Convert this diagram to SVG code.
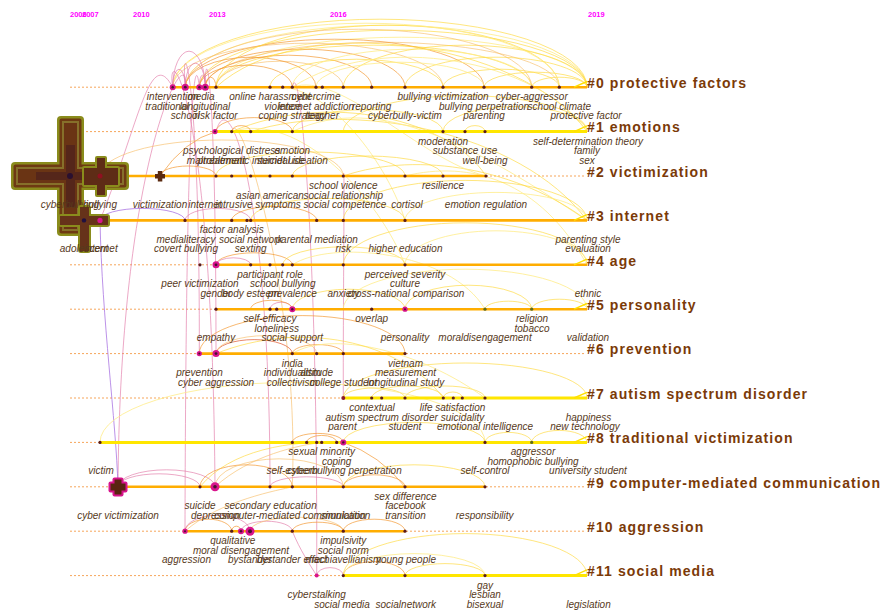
<svg xmlns="http://www.w3.org/2000/svg" width="893" height="611" viewBox="0 0 893 611">
<style>
.bg{fill:#ffffff}
.yr{font-family:"Liberation Sans",Arial,sans-serif;font-size:7.5px;font-weight:bold;fill:#ff00ff}
.kw{font-family:"Liberation Sans",Arial,sans-serif;font-size:10px;font-style:italic;fill:#573a1c;text-anchor:middle}
.cl{font-family:"Liberation Sans",Arial,sans-serif;font-size:14px;font-weight:bold;fill:#7b3a08;letter-spacing:1.1px}
.dl{stroke:#f6a55a;stroke-width:1;stroke-dasharray:2 2;fill:none}
.so{stroke:#ffad00;stroke-width:2.6;fill:none}
.sy{stroke:#ffe600;stroke-width:3;fill:none}
.wg{stroke:#ffe000;stroke-width:1.4;fill:none}
.d{fill:#5a1c1c}
.dg{fill:#5e6a1c}
.m{fill:#d8148c}
.mc{fill:#4a1030}
#connectors path{fill:none;stroke-width:1}
.ap{stroke:#e27aa8;stroke-opacity:.65}
.av{stroke:#a56ee0;stroke-opacity:.75}
.ao{stroke:#f39a35;stroke-opacity:.7}
.ar{stroke:#e0603a;stroke-opacity:.75}
.al{stroke:#f7bf6a;stroke-opacity:.65}
.ay{stroke:#ffd83a;stroke-opacity:.65}
.aq{stroke:#ffec8a;stroke-opacity:.8}
</style>
<rect class="bg" x="0" y="0" width="893" height="611"/>
<g id="years">
<text class="yr" x="70" y="17">2006</text>
<text class="yr" x="82" y="17">2007</text>
<text class="yr" x="133" y="17">2010</text>
<text class="yr" x="209" y="17">2013</text>
<text class="yr" x="330" y="17">2016</text>
<text class="yr" x="588" y="17">2019</text>
</g>
<g id="timelines-dotted">
<line class="dl" x1="70" y1="87.2" x2="586" y2="87.2"/>
<line class="dl" x1="70" y1="131.6" x2="586" y2="131.6"/>
<line class="dl" x1="70" y1="176" x2="586" y2="176"/>
<line class="dl" x1="70" y1="220.4" x2="586" y2="220.4"/>
<line class="dl" x1="70" y1="264.8" x2="586" y2="264.8"/>
<line class="dl" x1="70" y1="309.2" x2="586" y2="309.2"/>
<line class="dl" x1="70" y1="353.6" x2="586" y2="353.6"/>
<line class="dl" x1="70" y1="398" x2="586" y2="398"/>
<line class="dl" x1="70" y1="442.4" x2="586" y2="442.4"/>
<line class="dl" x1="70" y1="486.8" x2="586" y2="486.8"/>
<line class="dl" x1="70" y1="531.2" x2="586" y2="531.2"/>
<line class="dl" x1="70" y1="575.6" x2="586" y2="575.6"/>
</g>
<g id="connectors">
<path class="ay" d="M172.7 87.2 A207.15 68 0 0 1 587 87.2"/>
<path class="aq" d="M185.3 87.2 A200.85 62 0 0 1 587 87.2"/>
<path class="ay" d="M199.3 87.2 A193.85 57 0 0 1 587 87.2"/>
<path class="aq" d="M216 87.2 A185.5 50 0 0 1 587 87.2"/>
<path class="al" d="M205.3 87.2 A177 45 0 0 1 559.3 87.2"/>
<path class="ay" d="M216 87.2 A157.85 42 0 0 1 531.7 87.2"/>
<path class="ao" d="M185.3 87.2 A149.35 48 0 0 1 484 87.2"/>
<path class="al" d="M172.7 87.2 A135.15 44 0 0 1 443 87.2"/>
<path class="ao" d="M199.3 87.2 A102.85 38 0 0 1 405 87.2"/>
<path class="ao" d="M205.3 87.2 A83.2 32 0 0 1 371.7 87.2"/>
<path class="al" d="M216 87.2 A63.65 26 0 0 1 343.3 87.2"/>
<path class="ao" d="M185.3 87.2 A65.35 30 0 0 1 316 87.2"/>
<path class="ao" d="M199.3 87.2 A46.5 22 0 0 1 292.3 87.2"/>
<path class="ay" d="M270 87.2 A86.5 28 0 0 1 443 87.2"/>
<path class="aq" d="M292.3 87.2 A119.7 38 0 0 1 531.7 87.2"/>
<path class="ay" d="M343.3 87.2 A121.85 42 0 0 1 587 87.2"/>
<path class="ay" d="M405 87.2 A91 30 0 0 1 587 87.2"/>
<path class="ay" d="M443 87.2 A58.15 18 0 0 1 559.3 87.2"/>
<path class="aq" d="M316 87.2 A84 25 0 0 1 484 87.2"/>
<path class="ay" d="M484 87.2 A51.5 15 0 0 1 587 87.2"/>
<path class="ay" d="M531.7 87.2 A27.65 10 0 0 1 587 87.2"/>
<path class="ay" d="M216 87.2 A171.65 62 0 0 1 559.3 87.2"/>
<path class="al" d="M185.3 87.2 A173.2 58 0 0 1 531.7 87.2"/>
<path class="aq" d="M172.7 87.2 A193.3 64 0 0 1 559.3 87.2"/>
<path class="ap" d="M172.7 87.2 A6.3 18 0 0 1 185.3 87.2"/>
<path class="ap" d="M185.3 87.2 A10 24 0 0 1 205.3 87.2"/>
<path class="ap" d="M172.7 87.2 A16.3 36 0 0 1 205.3 87.2"/>
<path class="ap" d="M199.3 87.2 A3 12 0 0 1 205.3 87.2"/>
<path class="ao" d="M205.3 87.2 A5.35 10 0 0 1 216 87.2"/>
<path class="ay" d="M216 87.2 C300 10 520 40 587 131.6"/>
<path class="aq" d="M292.3 87.2 C380 30 540 60 587 131.6"/>
<path class="ay" d="M250.7 131.6 C350 100 520 130 587 220.4"/>
<path class="ay" d="M231.7 131.6 C330 90 450 120 486 176"/>
<path class="aq" d="M292.3 131.6 C380 90 480 150 587 220.4"/>
<path class="ay" d="M343.3 176 C420 150 520 170 587 220.4"/>
<path class="aq" d="M405 176 C470 160 540 180 587 264.8"/>
<path class="aq" d="M231.7 131.6 C300 110 380 200 405 264.8"/>
<path class="aq" d="M292.3 87.2 C340 70 420 160 486 176"/>
<path class="aq" d="M270 87.2 C330 80 390 170 405 220.4"/>
<path class="ap" d="M185.3 87.2 C180 30 200 60 199.3 353.6"/>
<path class="ap" d="M205.3 87.2 C205 40 216 70 216 353.6"/>
<path class="ap" d="M172.7 87.2 C165 40 212 80 215 486.8"/>
<path class="ap" d="M185.3 87.2 C190 35 120 150 118 486.8"/>
<path class="ap" d="M199.3 87.2 C195 45 186 100 185 531.2"/>
<path class="ap" d="M172.7 87.2 C150 45 140 120 100 220.4"/>
<path class="av" d="M100 220.4 C102 320 116 420 118 486.8"/>
<path class="ap" d="M216 131.6 C230 80 270 200 270 486.8"/>
<path class="ap" d="M292.3 87.2 C300 50 318 250 316.7 575.6"/>
<path class="ap" d="M343.3 176 C345 150 343 300 343.3 398"/>
<path class="al" d="M231.7 131.6 C240 100 300 300 292.3 486.8"/>
<path class="ao" d="M216 131.6 A38.15 14 0 0 1 292.3 131.6"/>
<path class="ao" d="M231.7 131.6 A9.5 6 0 0 1 250.7 131.6"/>
<path class="ay" d="M292.3 131.6 A75.35 22 0 0 1 443 131.6"/>
<path class="ay" d="M443 131.6 A72 25 0 0 1 587 131.6"/>
<path class="ay" d="M465 131.6 A10 6 0 0 1 485 131.6"/>
<path class="ay" d="M343.3 131.6 A121.85 36 0 0 1 587 131.6"/>
<path class="ao" d="M160 176 Q185 140 216 131.6"/>
<path class="al" d="M100 176 A121.65 36 0 0 1 343.3 176"/>
<path class="ay" d="M216 176 A94.5 24 0 0 1 405 176"/>
<path class="ay" d="M292.3 176 A75.35 20 0 0 1 443 176"/>
<path class="ao" d="M160 176 A28 10 0 0 1 216 176"/>
<path class="av" d="M100 220.4 A42.5 12 0 0 1 185 220.4"/>
<path class="ap" d="M185 220.4 A32.85 12 0 0 1 250.7 220.4"/>
<path class="ao" d="M231.7 220.4 A42.5 14 0 0 1 316.7 220.4"/>
<path class="ay" d="M250.7 220.4 A77.15 22 0 0 1 405 220.4"/>
<path class="ay" d="M343.3 220.4 A121.85 40 0 0 1 587 220.4"/>
<path class="aq" d="M405 220.4 A91 28 0 0 1 587 220.4"/>
<path class="ao" d="M216 264.8 A38.15 12 0 0 1 292.3 264.8"/>
<path class="ap" d="M216 264.8 A17.35 7 0 0 1 250.7 264.8"/>
<path class="ay" d="M282.7 264.8 A61.15 18 0 0 1 405 264.8"/>
<path class="ay" d="M343.3 264.8 A121.85 42 0 0 1 587 264.8"/>
<path class="aq" d="M405 264.8 A91 34 0 0 1 587 264.8"/>
<path class="aq" d="M292.3 264.8 C330 240 450 250 485 309.2"/>
<path class="ap" d="M270 309.2 A11.15 7 0 0 1 292.3 309.2"/>
<path class="ao" d="M250.7 309.2 A20.8 9 0 0 1 292.3 309.2"/>
<path class="ay" d="M292.3 309.2 A56.35 20 0 0 1 405 309.2"/>
<path class="ay" d="M405 309.2 A63.35 24 0 0 1 531.7 309.2"/>
<path class="ay" d="M485 309.2 A23.35 8 0 0 1 531.7 309.2"/>
<path class="ay" d="M531.7 309.2 A27.65 10 0 0 1 587 309.2"/>
<path class="aq" d="M343.3 309.2 A121.85 40 0 0 1 587 309.2"/>
<path class="ar" d="M216 353.6 A38.15 14 0 0 1 292.3 353.6"/>
<path class="ao" d="M199.3 353.6 A102.85 38 0 0 1 405 353.6"/>
<path class="ao" d="M292.3 353.6 A25.5 9 0 0 1 343.3 353.6"/>
<path class="al" d="M216 353.6 A50.35 18 0 0 1 316.7 353.6"/>
<path class="ay" d="M343.3 398 A121.85 35 0 0 1 587 398"/>
<path class="ay" d="M371.7 398 A35.8 12 0 0 1 443.3 398"/>
<path class="ay" d="M405 398 A40 12 0 0 1 485 398"/>
<path class="ay" d="M443.3 398 A9.5 6 0 0 1 462.3 398"/>
<path class="ay" d="M343.3 398 A30.85 10 0 0 1 405 398"/>
<path class="aq" d="M292.3 353.6 C330 330 420 350 485 398"/>
<path class="ay" d="M216 353.6 C300 320 400 340 443.3 398"/>
<path class="aq" d="M100 442.4 A192.5 60 0 0 1 485 442.4"/>
<path class="ao" d="M292.3 442.4 A25.5 9 0 0 1 343.3 442.4"/>
<path class="ao" d="M306.7 442.4 A15 7 0 0 1 336.7 442.4"/>
<path class="ay" d="M485 442.4 A23.35 10 0 0 1 531.7 442.4"/>
<path class="ay" d="M531.7 442.4 A27.65 12 0 0 1 587 442.4"/>
<path class="ay" d="M343.3 442.4 A70.85 20 0 0 1 485 442.4"/>
<path class="ao" d="M343.3 442.4 Q380 455 405 486.8"/>
<path class="ap" d="M118 486.8 A48.5 17 0 0 1 215 486.8"/>
<path class="ap" d="M118 486.8 A41 13 0 0 1 200 486.8"/>
<path class="ay" d="M200 486.8 C230 450 290 440 343.3 442.4"/>
<path class="al" d="M215 486.8 C250 455 300 445 321.7 442.4"/>
<path class="ao" d="M200 486.8 A46.15 22 0 0 1 292.3 486.8"/>
<path class="al" d="M215 486.8 A64.15 28 0 0 1 343.3 486.8"/>
<path class="ap" d="M270 486.8 A36.65 10 0 0 1 343.3 486.8"/>
<path class="ao" d="M343.3 486.8 A30.85 12 0 0 1 405 486.8"/>
<path class="ay" d="M343.3 486.8 A70.85 22 0 0 1 485 486.8"/>
<path class="ao" d="M185 531.2 A23.35 12 0 0 1 231.7 531.2"/>
<path class="ap" d="M185 531.2 A32.5 16 0 0 1 250 531.2"/>
<path class="ao" d="M231.7 531.2 A4.65 5 0 0 1 241 531.2"/>
<path class="ap" d="M241 531.2 A25.65 10 0 0 1 292.3 531.2"/>
<path class="al" d="M250 531.2 A46.65 14 0 0 1 343.3 531.2"/>
<path class="ao" d="M292.3 531.2 A25.5 9 0 0 1 343.3 531.2"/>
<path class="ao" d="M343.3 531.2 A30.85 12 0 0 1 405 531.2"/>
<path class="al" d="M185 531.2 C220 500 280 490 292.3 486.8"/>
<path class="ap" d="M316.7 575.6 A13.3 8 0 0 1 343.3 575.6"/>
<path class="ao" d="M343.3 575.6 A30.85 14 0 0 1 405 575.6"/>
<path class="ay" d="M343.3 575.6 A121.85 42 0 0 1 587 575.6"/>
<path class="ay" d="M405 575.6 A40 12 0 0 1 485 575.6"/>
<path class="aq" d="M343.3 575.6 A70.85 22 0 0 1 485 575.6"/>
<path class="ap" d="M292.3 531.2 C300 550 310 565 316.7 575.6"/>
</g>
<g id="timelines-solid">
<line class="so" x1="172.7" y1="87.2" x2="587" y2="87.2"/>
<line class="sy" x1="215" y1="131.6" x2="587" y2="131.6"/>
<line class="so" x1="70" y1="176" x2="486" y2="176"/>
<line class="so" x1="70" y1="220.4" x2="587" y2="220.4"/>
<line class="so" x1="216" y1="264.8" x2="587" y2="264.8"/>
<line class="so" x1="216" y1="309.2" x2="587" y2="309.2"/>
<line class="so" x1="199.3" y1="353.6" x2="405" y2="353.6"/>
<line class="sy" x1="343.3" y1="398" x2="587" y2="398"/>
<line class="sy" x1="100" y1="442.4" x2="587" y2="442.4"/>
<line class="so" x1="118" y1="486.8" x2="485" y2="486.8"/>
<line class="so" x1="185" y1="531.2" x2="405" y2="531.2"/>
<line class="sy" x1="343.3" y1="575.6" x2="587" y2="575.6"/>
<path class="wg" d="M574 87.2 L587 81.5 M574 131.6 L587 125.9 M574 220.4 L587 214.7 M574 264.8 L587 259.1 M574 309.2 L587 303.5 M574 398 L587 392.3 M574 442.4 L587 436.7 M574 575.6 L587 569.9"/>
</g>
<g id="clusters">
<g id="cluster0"><text class="cl" x="587" y="88">#0 protective factors</text></g>
<g id="cluster1"><text class="cl" x="587" y="132.4">#1 emotions</text></g>
<g id="cluster2"><text class="cl" x="587" y="176.8">#2 victimization</text></g>
<g id="cluster3"><text class="cl" x="587" y="221.2">#3 internet</text></g>
<g id="cluster4"><text class="cl" x="587" y="265.6">#4 age</text></g>
<g id="cluster5"><text class="cl" x="587" y="310">#5 personality</text></g>
<g id="cluster6"><text class="cl" x="587" y="354.4">#6 prevention</text></g>
<g id="cluster7"><text class="cl" x="587" y="398.8">#7 autism spectrum disorder</text></g>
<g id="cluster8"><text class="cl" x="587" y="443.2">#8 traditional victimization</text></g>
<g id="cluster9"><text class="cl" x="587" y="487.6">#9 computer-mediated communication</text></g>
<g id="cluster10"><text class="cl" x="587" y="532">#10 aggression</text></g>
<g id="cluster11"><text class="cl" x="587" y="576.4">#11 social media</text></g>
</g>
<g id="nodes">
<!-- big crosses -->
<g id="n2-cyberbullying">
<rect x="57" y="116" width="27" height="120" rx="4" fill="#8a8c1c"/>
<rect x="11" y="162" width="118" height="28" rx="4" fill="#8a8c1c"/>
<rect x="59.5" y="118.5" width="22" height="115" rx="2" fill="#6e3a12"/>
<rect x="13.5" y="164.5" width="113" height="23" rx="2" fill="#6e3a12"/>
<rect x="62" y="121" width="17" height="110" fill="#86702a"/>
<rect x="16" y="167" width="108" height="18" fill="#86702a"/>
<rect x="64" y="123" width="13" height="106" fill="#6a3414"/>
<rect x="18" y="169" width="104" height="14" fill="#6a3414"/>
<rect x="66" y="145" width="9" height="62" fill="#55261a"/>
<rect x="36" y="172" width="68" height="8" fill="#55261a"/>
<circle cx="70" cy="176" r="3" fill="#2a1030"/>
<text class="kw" x="70" y="208">cyberbullying</text>
</g>
<g id="n3-adolescent">
<rect x="78" y="205" width="13" height="48" rx="3" fill="#8a8c1c"/>
<rect x="58" y="214" width="52" height="13" rx="3" fill="#8a8c1c"/>
<rect x="80" y="207" width="9" height="44" fill="#66321a"/>
<rect x="60" y="216" width="48" height="9" fill="#66321a"/>
<circle cx="84" cy="220.4" r="2.2" fill="#201040"/>
<text class="kw" x="84" y="252.4">adolescent</text>
</g>
<g id="n2-bullying">
<rect x="95" y="156" width="12" height="41" rx="2" fill="#8a8c1c"/>
<rect x="82" y="166" width="38" height="21" rx="2" fill="#8a8c1c"/>
<rect x="97" y="158" width="8" height="37" fill="#5e2c16"/>
<rect x="84" y="168" width="34" height="17" fill="#5e2c16"/>
<circle cx="100" cy="176" r="2.5" fill="#901020"/>
<text class="kw" x="100" y="208">bullying</text>
</g>
<g id="n3-internet-100">
<circle class="m" cx="100" cy="220.4" r="2.6"/>
<text class="kw" x="101" y="252.4">internet</text>
</g>
<g id="n2-victimization">
<rect x="155" y="174" width="10" height="4.5" fill="#5a2a10"/>
<rect x="157.8" y="171" width="4.5" height="10.5" fill="#5a2a10"/>
<text class="kw" x="160" y="208">victimization</text>
</g>
<g id="n9-cybervictimization">
<rect x="108.5" y="481.5" width="19" height="11" rx="2" fill="#d8148c"/>
<rect x="112.5" y="477.5" width="11" height="19" rx="2" fill="#d8148c"/>
<rect x="110.5" y="483.5" width="15" height="7" fill="#5a2410"/>
<rect x="114.5" y="479.5" width="7" height="15" fill="#5a2410"/>
<text class="kw" x="118" y="518.8">cyber victimization</text>
</g>
<!-- cluster 0 -->
<g id="n0-intervention"><circle class="m" cx="172.7" cy="87.2" r="3"/><circle class="mc" cx="172.7" cy="87.2" r="1.2"/><text class="kw" x="172.7" y="100.2">intervention</text><text class="kw" x="167" y="109.7">traditional</text></g>
<g id="n0-school"><circle class="m" cx="185.3" cy="87.2" r="3.5"/><circle class="mc" cx="185.3" cy="87.2" r="1.4"/><text class="kw" x="185.3" y="119.2">school</text></g>
<g id="n0-media"><circle class="m" cx="199.3" cy="87.2" r="3"/><circle class="mc" cx="199.3" cy="87.2" r="1.2"/><text class="kw" x="201" y="100.2">media</text></g>
<g id="n0-longitudinal"><circle class="m" cx="205.3" cy="87.2" r="3.5"/><circle class="mc" cx="205.3" cy="87.2" r="1.4"/><text class="kw" x="205" y="109.7">longitudinal</text></g>
<g id="n0-riskfactor"><circle class="d" cx="216" cy="87.2" r="1.6"/><text class="kw" x="216" y="119.2">risk factor</text></g>
<g id="n0-onlineharassment"><circle class="d" cx="270" cy="87.2" r="1.6"/><text class="kw" x="270" y="100.2">online harassment</text></g>
<g id="n0-violence"><circle class="d" cx="282.7" cy="87.2" r="1.6"/><text class="kw" x="282.7" y="109.7">violence</text></g>
<g id="n0-copingstrategy"><circle class="d" cx="292.3" cy="87.2" r="1.6"/><text class="kw" x="292.3" y="119.2">coping strategy</text></g>
<g id="n0-cybercrime"><circle class="d" cx="316" cy="87.2" r="1.6"/><text class="kw" x="316" y="100.2">cybercrime</text><text class="kw" x="316" y="109.7">internet addiction</text></g>
<g id="n0-teacher"><circle class="d" cx="322.3" cy="87.2" r="1.6"/><text class="kw" x="322.3" y="119.2">teacher</text></g>
<g id="n0-343"><circle class="d" cx="343.3" cy="87.2" r="1.6"/></g>
<g id="n0-reporting"><circle class="d" cx="371.7" cy="87.2" r="1.6"/><text class="kw" x="371.7" y="109.7">reporting</text></g>
<g id="n0-cyberbullyvictim"><circle class="d" cx="405" cy="87.2" r="1.6"/><text class="kw" x="405" y="119.2">cyberbully-victim</text></g>
<g id="n0-bullyingvictimization"><circle class="d" cx="443" cy="87.2" r="1.6"/><text class="kw" x="443" y="100.2">bullying victimization</text></g>
<g id="n0-bullyingperpetration"><circle class="d" cx="484" cy="87.2" r="1.6"/><text class="kw" x="484" y="109.7">bullying perpetration</text><text class="kw" x="484" y="119.2">parenting</text></g>
<g id="n0-cyberaggressor"><circle class="d" cx="531.7" cy="87.2" r="1.6"/><text class="kw" x="531.7" y="100.2">cyber-aggressor</text></g>
<g id="n0-schoolclimate"><circle class="d" cx="559.3" cy="87.2" r="1.6"/><text class="kw" x="559.3" y="109.7">school climate</text></g>
<g id="n0-protectivefactor"><text class="kw" x="586" y="119.2">protective factor</text></g>
<!-- cluster 1 -->
<g id="n1-maltreatment"><circle class="m" cx="215" cy="131.6" r="2.6"/><circle class="mc" cx="215" cy="131.6" r="1"/><text class="kw" x="216" y="163.6">maltreatment</text></g>
<g id="n1-psychologicaldistress"><circle class="d" cx="231.7" cy="131.6" r="1.6"/><text class="kw" x="231.7" y="154.1">psychological distress</text></g>
<g id="n1-problematicinternetuse"><circle class="d" cx="250.7" cy="131.6" r="1.6"/><text class="kw" x="251" y="163.6">problematic internet use</text></g>
<g id="n1-emotion"><circle class="d" cx="292.3" cy="131.6" r="1.6"/><text class="kw" x="292.3" y="154.1">emotion</text><text class="kw" x="292.3" y="163.6">suicidal ideation</text></g>
<g id="n1-moderation"><circle class="d" cx="443" cy="131.6" r="1.6"/><text class="kw" x="443" y="144.6">moderation</text></g>
<g id="n1-substanceuse"><circle class="d" cx="465" cy="131.6" r="1.6"/><text class="kw" x="465" y="154.1">substance use</text></g>
<g id="n1-wellbeing"><circle class="d" cx="485" cy="131.6" r="1.6"/><text class="kw" x="485" y="163.6">well-being</text></g>
<g id="n1-selfdetermination"><text class="kw" x="588" y="144.6">self-determination theory</text><text class="kw" x="587" y="154.1">family</text><text class="kw" x="587" y="163.6">sex</text></g>
<!-- cluster 2 -->
<g id="n2-internet"><circle class="d" cx="216" cy="176" r="1.6"/><text class="kw" x="205" y="208">internet</text></g>
<g id="n2-231"><circle class="d" cx="231.7" cy="176" r="1.6"/></g>
<g id="n2-intrusivesymptoms"><circle class="d" cx="250.7" cy="176" r="1.6"/><text class="kw" x="258" y="208">intrusive symptoms</text></g>
<g id="n2-asianamerican"><circle class="d" cx="270" cy="176" r="1.6"/><text class="kw" x="270" y="198.5">asian american</text></g>
<g id="n2-292"><circle class="d" cx="292.3" cy="176" r="1.6"/></g>
<g id="n2-schoolviolence"><circle class="d" cx="343.3" cy="176" r="1.6"/><text class="kw" x="343.3" y="189">school violence</text><text class="kw" x="343.3" y="198.5">social relationship</text><text class="kw" x="345" y="208">social competence</text></g>
<g id="n2-cortisol"><circle class="d" cx="405" cy="176" r="1.6"/><text class="kw" x="407" y="208">cortisol</text></g>
<g id="n2-resilience"><circle class="d" cx="443" cy="176" r="1.6"/><text class="kw" x="443" y="189">resilience</text></g>
<g id="n2-emotionregulation"><circle class="d" cx="486" cy="176" r="1.6"/><text class="kw" x="486" y="208">emotion regulation</text></g>
<!-- cluster 3 -->
<g id="n3-medialiteracy"><circle class="d" cx="185" cy="220.4" r="1.6"/><text class="kw" x="186" y="242.9">medialiteracy</text><text class="kw" x="186" y="252.4">covert bullying</text></g>
<g id="n3-factoranalysis"><circle class="d" cx="231.7" cy="220.4" r="1.6"/><text class="kw" x="231.7" y="233.4">factor analysis</text></g>
<g id="n3-247"><circle class="d" cx="247" cy="220.4" r="1.6"/></g>
<g id="n3-socialnetwork"><circle class="d" cx="250.7" cy="220.4" r="1.6"/><text class="kw" x="250.7" y="242.9">social network</text><text class="kw" x="250.7" y="252.4">sexting</text></g>
<g id="n3-parentalmediation"><circle class="d" cx="316.7" cy="220.4" r="1.6"/><text class="kw" x="316.7" y="242.9">parental mediation</text></g>
<g id="n3-risk"><circle class="d" cx="343.3" cy="220.4" r="1.6"/><text class="kw" x="343.3" y="252.4">risk</text></g>
<g id="n3-highereducation"><circle class="d" cx="405" cy="220.4" r="1.6"/><text class="kw" x="405.5" y="252.4">higher education</text></g>
<g id="n3-parentingstyle"><text class="kw" x="588" y="242.9">parenting style</text><text class="kw" x="588" y="252.4">evaluation</text></g>
<!-- cluster 4 -->
<g id="n4-peervictimization"><circle class="d" cx="200" cy="264.8" r="1.6"/><text class="kw" x="200" y="287.3">peer victimization</text></g>
<g id="n4-gender"><circle class="m" cx="216" cy="264.8" r="3.5"/><circle class="mc" cx="216" cy="264.8" r="1.4"/><text class="kw" x="216" y="296.8">gender</text></g>
<g id="n4-bodyesteem"><circle class="d" cx="250.7" cy="264.8" r="1.6"/><text class="kw" x="250.7" y="296.8">body esteem</text></g>
<g id="n4-participantrole"><circle class="d" cx="270" cy="264.8" r="1.6"/><text class="kw" x="270" y="277.8">participant role</text></g>
<g id="n4-schoolbullying"><circle class="d" cx="282.7" cy="264.8" r="1.6"/><text class="kw" x="282.7" y="287.3">school bullying</text></g>
<g id="n4-prevalence"><circle class="d" cx="292.3" cy="264.8" r="1.6"/><text class="kw" x="292.3" y="296.8">prevalence</text></g>
<g id="n4-anxiety"><circle class="d" cx="343.3" cy="264.8" r="1.6"/><text class="kw" x="343.3" y="296.8">anxiety</text></g>
<g id="n4-perceivedseverity"><circle class="d" cx="405" cy="264.8" r="1.6"/><text class="kw" x="405" y="277.8">perceived severity</text><text class="kw" x="405" y="287.3">culture</text><text class="kw" x="406" y="296.8">cross-national comparison</text></g>
<g id="n4-ethnic"><text class="kw" x="588" y="296.8">ethnic</text></g>
<!-- cluster 5 -->
<g id="n5-empathy"><circle class="d" cx="216" cy="309.2" r="1.6"/><text class="kw" x="216" y="341.2">empathy</text></g>
<g id="n5-selfefficacy"><circle class="d" cx="270" cy="309.2" r="1.6"/><text class="kw" x="270" y="322.2">self-efficacy</text></g>
<g id="n5-loneliness"><circle class="d" cx="276.7" cy="309.2" r="1.6"/><text class="kw" x="276.7" y="331.7">loneliness</text></g>
<g id="n5-socialsupport"><circle class="m" cx="292.3" cy="309.2" r="3"/><circle class="mc" cx="292.3" cy="309.2" r="1.2"/><text class="kw" x="292.3" y="341.2">social support</text></g>
<g id="n5-overlap"><circle class="d" cx="371.7" cy="309.2" r="1.6"/><text class="kw" x="371.7" y="322.2">overlap</text></g>
<g id="n5-personality"><circle class="m" cx="405" cy="309.2" r="2.6"/><circle class="mc" cx="405" cy="309.2" r="1"/><text class="kw" x="405" y="341.2">personality</text></g>
<g id="n5-moraldisengagement"><circle class="dg" cx="485" cy="309.2" r="1.6"/><text class="kw" x="485" y="341.2">moraldisengagement</text></g>
<g id="n5-religion"><circle class="dg" cx="531.7" cy="309.2" r="1.6"/><text class="kw" x="532" y="322.2">religion</text><text class="kw" x="532" y="331.7">tobacco</text></g>
<g id="n5-validation"><text class="kw" x="588" y="341.2">validation</text></g>
<!-- cluster 6 -->
<g id="n6-prevention"><circle class="m" cx="199.3" cy="353.6" r="2.6"/><circle class="mc" cx="199.3" cy="353.6" r="1"/><text class="kw" x="199.5" y="376.1">prevention</text></g>
<g id="n6-cyberaggression"><circle class="m" cx="216" cy="353.6" r="3.5"/><circle class="mc" cx="216" cy="353.6" r="1.4"/><text class="kw" x="216" y="385.6">cyber aggression</text></g>
<g id="n6-india"><circle class="d" cx="292.3" cy="353.6" r="1.6"/><text class="kw" x="292.3" y="366.6">india</text><text class="kw" x="292.3" y="376.1">individualism</text><text class="kw" x="292.3" y="385.6">collectivism</text></g>
<g id="n6-attitude"><circle class="d" cx="316.7" cy="353.6" r="1.6"/><text class="kw" x="316.7" y="376.1">attitude</text></g>
<g id="n6-collegestudent"><circle class="d" cx="343.3" cy="353.6" r="1.6"/><text class="kw" x="343.3" y="385.6">college student</text></g>
<g id="n6-vietnam"><circle class="d" cx="405" cy="353.6" r="1.6"/><text class="kw" x="405.5" y="366.6">vietnam</text><text class="kw" x="405.5" y="376.1">measurement</text><text class="kw" x="405.5" y="385.6">longitudinal study</text></g>
<!-- cluster 7 -->
<g id="n7-parent"><circle cx="343.3" cy="398" r="2" fill="#8a1a2a"/><text class="kw" x="342.5" y="430">parent</text></g>
<g id="n7-contextual"><circle class="d" cx="371.7" cy="398" r="1.6"/><text class="kw" x="372" y="411">contextual</text></g>
<g id="n7-asd"><circle class="d" cx="381.7" cy="398" r="1.6"/><text class="kw" x="381.7" y="420.5">autism spectrum disorder</text></g>
<g id="n7-student"><circle class="d" cx="405" cy="398" r="1.6"/><text class="kw" x="405" y="430">student</text></g>
<g id="n7-443"><circle class="d" cx="443.3" cy="398" r="1.6"/></g>
<g id="n7-lifesatisfaction"><circle class="d" cx="453.3" cy="398" r="1.6"/><text class="kw" x="452.5" y="411">life satisfaction</text></g>
<g id="n7-suicidality"><circle class="d" cx="462.3" cy="398" r="1.6"/><text class="kw" x="462.5" y="420.5">suicidality</text></g>
<g id="n7-emotionalintelligence"><circle class="d" cx="485" cy="398" r="1.6"/><text class="kw" x="485" y="430">emotional intelligence</text></g>
<g id="n7-happiness"><text class="kw" x="588.5" y="420.5">happiness</text><text class="kw" x="585" y="430">new technology</text></g>
<!-- cluster 8 -->
<g id="n8-victim"><circle class="d" cx="100" cy="442.4" r="1.6"/><text class="kw" x="101" y="474.4">victim</text></g>
<g id="n8-selfesteem"><circle class="d" cx="292.3" cy="442.4" r="1.6"/><text class="kw" x="292.3" y="474.4">self-esteem</text></g>
<g id="n8-306"><circle class="d" cx="306.7" cy="442.4" r="1.6"/></g>
<g id="n8-316"><circle class="d" cx="316.7" cy="442.4" r="1.6"/></g>
<g id="n8-sexualminority"><circle class="d" cx="321.7" cy="442.4" r="1.6"/><text class="kw" x="321.7" y="455.4">sexual minority</text></g>
<g id="n8-coping"><circle class="d" cx="336.7" cy="442.4" r="1.6"/><text class="kw" x="336.7" y="464.9">coping</text></g>
<g id="n8-cyberbullyingperpetration"><circle class="m" cx="343.3" cy="442.4" r="3"/><circle class="mc" cx="343.3" cy="442.4" r="1.2"/><text class="kw" x="344.5" y="474.4">cyberbullying perpetration</text></g>
<g id="n8-selfcontrol"><circle class="d" cx="485" cy="442.4" r="1.6"/><text class="kw" x="485" y="474.4">self-control</text></g>
<g id="n8-aggressor"><circle class="dg" cx="531.7" cy="442.4" r="1.6"/><text class="kw" x="533" y="455.4">aggressor</text><text class="kw" x="533" y="464.9">homophobic bullying</text></g>
<g id="n8-universitystudent"><text class="kw" x="588" y="474.4">university student</text></g>
<!-- cluster 9 -->
<g id="n9-suicide"><circle class="d" cx="200" cy="486.8" r="1.6"/><text class="kw" x="200" y="509.3">suicide</text></g>
<g id="n9-depression"><circle class="m" cx="215" cy="486.8" r="4.5"/><circle class="mc" cx="215" cy="486.8" r="1.8"/><text class="kw" x="215.5" y="518.8">depression</text></g>
<g id="n9-secondaryeducation"><circle class="d" cx="270" cy="486.8" r="1.6"/><text class="kw" x="270.6" y="509.3">secondary education</text></g>
<g id="n9-cmc"><circle class="d" cx="292.3" cy="486.8" r="1.6"/><text class="kw" x="292.3" y="518.8">computer-mediated communication</text></g>
<g id="n9-simulation"><circle class="d" cx="343.3" cy="486.8" r="1.6"/><text class="kw" x="343.3" y="518.8">simulation</text></g>
<g id="n9-sexdifference"><circle class="d" cx="405" cy="486.8" r="1.6"/><text class="kw" x="405.5" y="499.8">sex difference</text><text class="kw" x="405.5" y="509.3">facebook</text><text class="kw" x="405.5" y="518.8">transition</text></g>
<g id="n9-responsibility"><circle class="d" cx="485" cy="486.8" r="1.6"/><text class="kw" x="484.7" y="518.8">responsibility</text></g>
<!-- cluster 10 -->
<g id="n10-aggression"><circle class="m" cx="185" cy="531.2" r="2.6"/><circle class="mc" cx="185" cy="531.2" r="1"/><text class="kw" x="186.5" y="563.2">aggression</text></g>
<g id="n10-qualitative"><circle class="d" cx="231.7" cy="531.2" r="1.6"/><text class="kw" x="232.7" y="544.2">qualitative</text></g>
<g id="n10-moraldisengagement"><circle class="m" cx="241" cy="531.2" r="3"/><circle class="mc" cx="241" cy="531.2" r="1.2"/><text class="kw" x="241" y="553.7">moral disengagement</text></g>
<g id="n10-bystander"><circle class="m" cx="250" cy="531.2" r="4.5"/><circle class="mc" cx="250" cy="531.2" r="2"/><text class="kw" x="250" y="563.2">bystander</text></g>
<g id="n10-bystandereffect"><circle class="d" cx="292.3" cy="531.2" r="1.6"/><text class="kw" x="292.3" y="563.2">bystander effect</text></g>
<g id="n10-impulsivity"><circle class="d" cx="343.3" cy="531.2" r="1.6"/><text class="kw" x="343.3" y="544.2">impulsivity</text><text class="kw" x="343.3" y="553.7">social norm</text><text class="kw" x="343.3" y="563.2">machiavellianism</text></g>
<g id="n10-youngpeople"><circle class="d" cx="405" cy="531.2" r="1.6"/><text class="kw" x="406" y="563.2">young people</text></g>
<!-- cluster 11 -->
<g id="n11-cyberstalking"><circle class="m" cx="316.7" cy="575.6" r="2"/><text class="kw" x="316.7" y="598.1">cyberstalking</text></g>
<g id="n11-socialmedia"><circle class="d" cx="343.3" cy="575.6" r="1.6"/><text class="kw" x="342" y="607.6">social media</text></g>
<g id="n11-socialnetwork"><circle class="d" cx="405" cy="575.6" r="1.6"/><text class="kw" x="405.8" y="607.6">socialnetwork</text></g>
<g id="n11-gay"><circle class="d" cx="485" cy="575.6" r="1.6"/><text class="kw" x="485" y="588.6">gay</text><text class="kw" x="485" y="598.1">lesbian</text><text class="kw" x="485" y="607.6">bisexual</text></g>
<g id="n11-legislation"><text class="kw" x="588.5" y="607.6">legislation</text></g>
</g>
</svg>
